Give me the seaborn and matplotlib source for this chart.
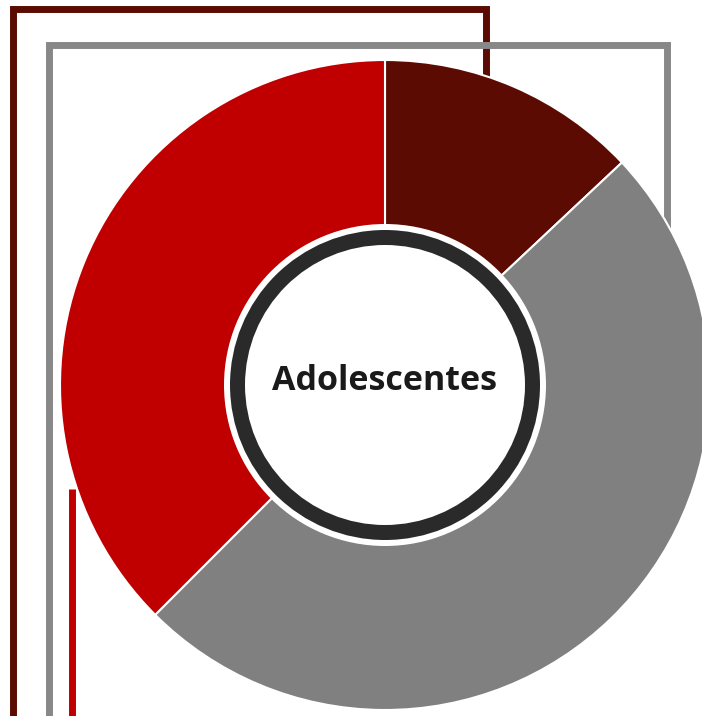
import matplotlib
matplotlib.use("Agg")
import matplotlib.pyplot as plt
from matplotlib.patches import Circle
import seaborn as sns

# data
categories = ["Segmento A", "Segmento B", "Segmento C"]
values = [13.0, 49.5, 37.5]
colors = ["#5c0b02", "#808080", "#c00000"]
center_label = "Adolescentes"

sns.set_theme(style="white")
plt.rcParams['font.family'] = ['Open Sans', 'DejaVu Sans']

W, H = 702, 716
fig = plt.figure(figsize=(W / 100, H / 100), dpi=100)
ax = fig.add_axes([0, 0, 1, 1])

def Y(y):
    return H - y

lw = 5.0
# decorative frame lines (behind donut)
ax.plot([12.5, 12.5, 485.5, 485.5], [Y(720), Y(8.5), Y(8.5), Y(200)],
        color="#5c0b02", lw=lw, solid_joinstyle="miter", solid_capstyle="butt", zorder=1)
ax.plot([48.5, 48.5, 667, 667], [Y(720), Y(45), Y(45), Y(400)],
        color="#888888", lw=lw, solid_joinstyle="miter", solid_capstyle="butt", zorder=1)
ax.plot([71.5, 71.5], [Y(720), Y(489)],
        color="#c00000", lw=lw, solid_joinstyle="miter", solid_capstyle="butt", zorder=1)

cx, cy, R = 385, Y(385), 325
wedges, _ = ax.pie(values, colors=colors, startangle=90, counterclock=False,
                   radius=R, center=(cx, cy), frame=True,
                   wedgeprops=dict(width=R - 158, edgecolor="white", linewidth=1.5))
for w in wedges:
    w.set_zorder(2)
ax.set_xlim(0, W)
ax.set_ylim(0, H)
ax.set_axis_off()

ax.add_patch(Circle((cx, cy), 161, facecolor="white", edgecolor="none", zorder=3))
ax.add_patch(Circle((cx, cy), 155, facecolor="#2a2a2a", edgecolor="none", zorder=4))
ax.add_patch(Circle((cx, cy), 140, facecolor="white", edgecolor="none", zorder=5))

ax.text(cx, Y(381), center_label, ha="center", va="center", fontsize=24.5,
        fontweight="bold", color="#1a1a1a", zorder=6)

fig.savefig("out.png", dpi=100)
